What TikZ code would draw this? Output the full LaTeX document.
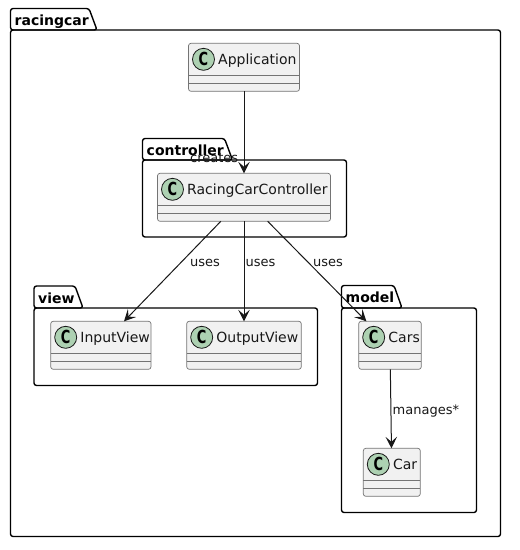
\documentclass[tikz,border=0pt]{standalone}
\usepackage{fontspec}
\usepackage{graphicx}
\setmainfont{DejaVu Sans}
\usetikzlibrary{arrows.meta}
\definecolor{ink}{HTML}{181818}
\definecolor{boxfill}{HTML}{F1F1F1}
\definecolor{spot}{HTML}{ADD1B2}
\tikzset{
  classbox/.style={draw=ink!60,line width=0.7pt,fill=boxfill,rounded corners=2.5pt,inner sep=0pt,outer sep=0pt},
  spotc/.style={circle,draw=ink,fill=spot,line width=0.8pt,minimum size=22pt,inner sep=0pt,text=black,font=\fontsize{18}{18}\selectfont\bfseries},
  classname/.style={anchor=base west,inner sep=0pt,text=ink,font=\fontsize{14}{14}\selectfont},
  pkgline/.style={draw=black,line width=1.4pt,line join=round},
  pkgtitle/.style={anchor=base west,inner sep=0pt,text=black,font=\fontsize{14}{14}\selectfont\bfseries},
  edgelabel/.style={anchor=base west,inner sep=0pt,text=ink,font=\fontsize{13}{13}\selectfont},
  rel/.style={draw=ink,line width=1pt,-{Stealth[length=11.5pt,width=11.5pt,inset=5pt]}},
}
% name, left, top, width, text
\newcommand{\umlclass}[5]{%
  \node[classbox,minimum width=#4pt,minimum height=48pt,anchor=north west] (#1) at (#2,#3) {};
  \draw[ink!60,line width=0.7pt] (#2,#3+32) -- (#2+#4,#3+32) (#2,#3+40) -- (#2+#4,#3+40);
  \node[spotc] (#1spot) at (#2+15,#3+16) {\scalebox{0.72}[1]{C}};
  \node[classname] (#1name) at (#2+29.5,#3+21) {#5};
}
% name, left, tabtop, bodytop, right, bottom, tabright, title
\newcommand{\umlpackage}[8]{%
  \path[pkgline,rounded corners=2.5pt] (#2,#4) -- (#2,#3) -- (#7,#3) -- (#7+8,#4) -- cycle;
  \path[pkgline,rounded corners=2.5pt] (#2,#4) rectangle (#5,#6);
  \node[pkgtitle] (#1title) at (#2+4,#3+17) {#8};
}
\begin{document}
\begin{tikzpicture}[x=1pt,y=-1pt]
\useasboundingbox (0,0) rectangle (520,550);
\fill[white] (0,0) rectangle (520,550);
\umlpackage{racingcar}{10.5}{8.5}{30}{500.5}{536.5}{89}{racingcar}
\umlpackage{controller}{142.5}{138.5}{160}{346.5}{237}{224.5}{controller}
\umlpackage{view}{34}{286}{308}{317.5}{385.5}{75}{view}
\umlpackage{model}{341.5}{285.5}{308}{476.5}{512.5}{394}{model}
\umlclass{app}{188.5}{43.3}{111}{Application}
\umlclass{rcc}{157.5}{173.3}{173}{RacingCarController}
\umlclass{iv}{50.7}{321.3}{100.3}{InputView}
\umlclass{ov}{186.7}{321.3}{114.6}{OutputView}
\umlclass{cars}{358.7}{321.3}{62.6}{Cars}
\umlclass{car}{363.3}{448.3}{57}{Car}
\draw[rel] (app) -- (rcc);
\draw[rel] (rcc) -- (iv);
\draw[rel] (rcc) -- (ov);
\draw[rel] (rcc) -- (cars);
\draw[rel] (cars) -- (car);
\node[edgelabel] (l1) at (190,162) {creates};
\node[edgelabel] (l2) at (190,266) {uses};
\node[edgelabel] (l3) at (245.5,266) {uses};
\node[edgelabel] (l4) at (313,266) {uses};
\node[edgelabel] (l5) at (392.5,414.5) {manages*};
\end{tikzpicture}
\end{document}
